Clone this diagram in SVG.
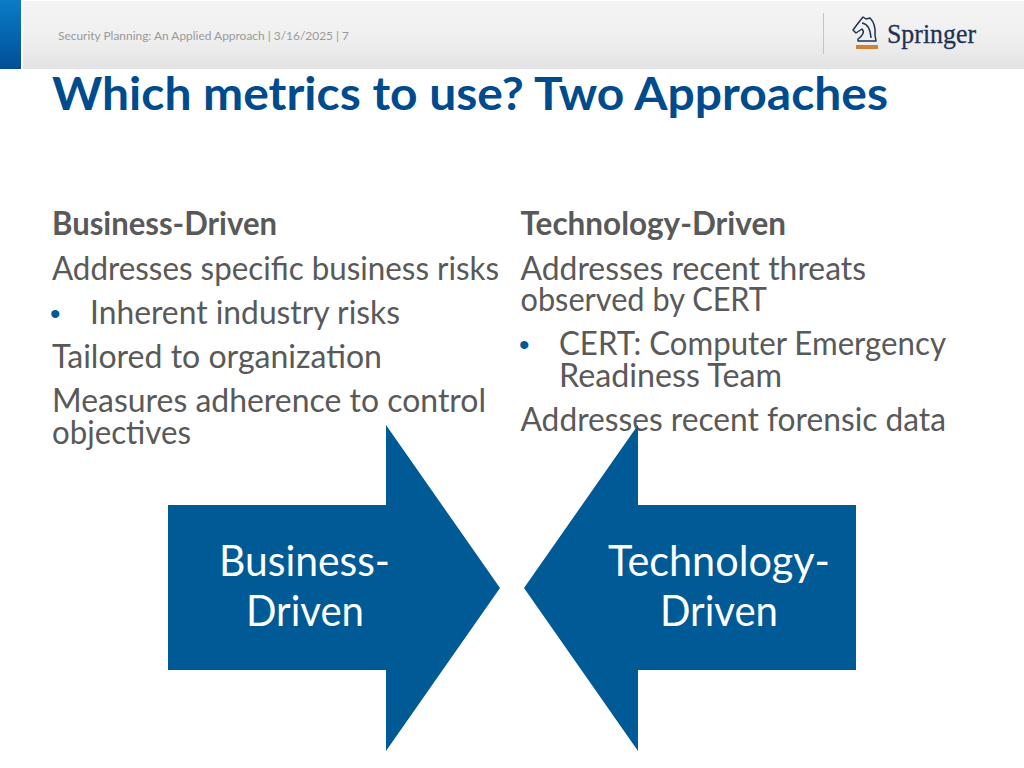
<svg xmlns="http://www.w3.org/2000/svg" width="1024" height="768" viewBox="0 0 1024 768">
<defs><linearGradient id="hd" x1="0" y1="0" x2="0" y2="1"><stop offset="0" stop-color="#f4f4f4"/><stop offset="0.5" stop-color="#f0f0f0"/><stop offset="1" stop-color="#e3e3e5"/></linearGradient>
<linearGradient id="bl" x1="0" y1="0" x2="0" y2="1"><stop offset="0" stop-color="#0a7cc8"/><stop offset="1" stop-color="#004f96"/></linearGradient></defs>
<style>
text{font-family:Lato,"Open Sans",sans-serif}
.b{font-size:32px;fill:#595959}
.h{font-weight:700}
.u{font-family:"Liberation Sans",sans-serif;font-size:30px;fill:#005a96}
.a{fill:#005a96}
.l{font-size:42px;fill:#fff}
.k{fill:none;stroke:#1f3355;stroke-width:1.5;stroke-linejoin:round}
</style>
<rect width="1024" height="768" fill="#fff"/>
<rect x="23" y="1" width="1001" height="68" fill="url(#hd)"/>
<rect x="0" y="0" width="21" height="69" fill="url(#bl)"/>
<text x="58" y="40" font-size="11" fill="#999999" textLength="291" lengthAdjust="spacingAndGlyphs">Security Planning: An Applied Approach | 3/16/2025 | 7</text>
<rect x="823" y="13" width="1" height="41" fill="#c4c4c4"/>
<g id="logo">
<path class="k" d="M858 39 Q866 33 862 29 L856 33 L853 30 L859 22 L863 17 L866 19 L870 18 Q876 24 875 35 L876 41 H858 Z"/>
<path class="k" d="M862 23 Q870 24 871 38"/>
<rect x="856" y="45" width="22" height="4" fill="#cf8236"/>
<text x="887" y="43" font-size="27" fill="#1f3355" style="font-family:'Liberation Serif',serif" stroke="#1f3355" stroke-width="0.3" textLength="89" lengthAdjust="spacingAndGlyphs">Springer</text>
</g>
<text x="52" y="110" font-size="45" font-weight="700" fill="#004b8d" textLength="836" lengthAdjust="spacingAndGlyphs">Which metrics to use? Two Approaches</text>
<g id="left">
<text class="b h" x="52" y="235" textLength="225" lengthAdjust="spacingAndGlyphs">Business-Driven</text>
<text class="b" x="52" y="280" textLength="447" lengthAdjust="spacingAndGlyphs">Addresses specific business risks</text>
<text class="u" x="50" y="324">•</text>
<text class="b" x="90" y="324" textLength="310" lengthAdjust="spacingAndGlyphs">Inherent industry risks</text>
<text class="b" x="52" y="368" textLength="330" lengthAdjust="spacingAndGlyphs">Tailored to organization</text>
<text class="b" x="52" y="412" textLength="434" lengthAdjust="spacingAndGlyphs">Measures adherence to control</text>
<text class="b" x="52" y="444" textLength="139" lengthAdjust="spacingAndGlyphs">objectives</text>
</g>
<g id="right">
<text class="b h" x="520.5" y="235" textLength="265.5" lengthAdjust="spacingAndGlyphs">Technology-Driven</text>
<text class="b" x="520.5" y="280" textLength="345.5" lengthAdjust="spacingAndGlyphs">Addresses recent threats</text>
<text class="b" x="520.5" y="311" textLength="246.5" lengthAdjust="spacingAndGlyphs">observed by CERT</text>
<text class="u" x="519" y="355">•</text>
<text class="b" x="559" y="355" textLength="387" lengthAdjust="spacingAndGlyphs">CERT: Computer Emergency</text>
<text class="b" x="559" y="387" textLength="223" lengthAdjust="spacingAndGlyphs">Readiness Team</text>
<text class="b" x="520.5" y="431" textLength="425.5" lengthAdjust="spacingAndGlyphs">Addresses recent forensic data</text>
</g>
<g id="arrow-left"><path class="a" d="M168 505H386V425L500 588L386 751V670H168Z"/>
<text class="l" x="219" y="576" textLength="171" lengthAdjust="spacingAndGlyphs">Business-</text><text class="l" x="246" y="626" textLength="118" lengthAdjust="spacingAndGlyphs">Driven</text></g>
<g id="arrow-right"><path class="a" d="M856 505H638V425L524 588L638 751V670H856Z"/>
<text class="l" x="608" y="576" textLength="222" lengthAdjust="spacingAndGlyphs">Technology-</text><text class="l" x="660" y="626" textLength="118" lengthAdjust="spacingAndGlyphs">Driven</text></g>
</svg>
